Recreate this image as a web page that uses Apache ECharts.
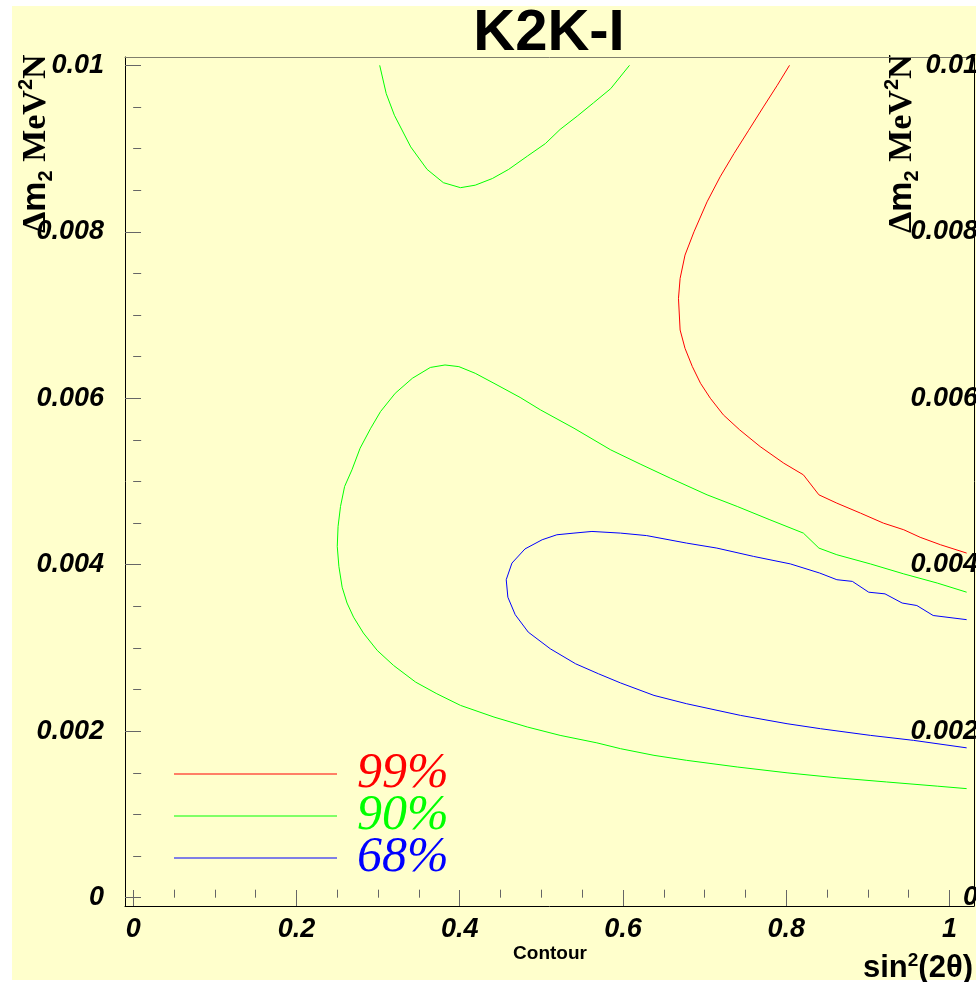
<!DOCTYPE html>
<html>
<head>
<meta charset="utf-8">
<script src="https://cdn.jsdelivr.net/npm/echarts@6/dist/echarts.min.js"></script>
<style>
  html, body { margin: 0; padding: 0; background: #ffffff; }
  #pad { position: absolute; left: 12px; top: 6px; width: 964px; height: 974px; background: #ffffcc; }
  #chart { position: absolute; left: 0; top: 0; width: 976px; height: 982px; }
</style>
</head>
<body>
<div id="pad"></div>
<div id="chart"></div>
<script>
// Axis ranges and tick positions
const xRange = [-0.01, 1.03];
const yRange = [-0.0001, 0.0101];
const xMajorTicks = [0, 0.2, 0.4, 0.6, 0.8, 1];
const xTickLabels = ['0', '0.2', '0.4', '0.6', '0.8', '1'];
const xMinorTicks = [0.05, 0.1, 0.15, 0.25, 0.3, 0.35, 0.45, 0.5, 0.55, 0.65, 0.7, 0.75, 0.85, 0.9, 0.95];
const yMajorTicks = [0, 0.002, 0.004, 0.006, 0.008, 0.01];
const yTickLabels = ['0', '0.002', '0.004', '0.006', '0.008', '0.01'];
const yMinorTicks = [0.0005, 0.001, 0.0015, 0.0025, 0.003, 0.0035, 0.0045, 0.005, 0.0055,
                     0.0065, 0.007, 0.0075, 0.0085, 0.009, 0.0095];

// Confidence-level contours in (sin^2 2theta, delta m^2) space
const contour99 = [
  [0.804, 0.01000], [0.789, 0.00976], [0.772, 0.00950], [0.754, 0.00922], [0.736, 0.00894],
  [0.719, 0.00866], [0.703, 0.00836], [0.687, 0.00800], [0.676, 0.00772], [0.670, 0.00744],
  [0.668, 0.00720], [0.670, 0.00682], [0.676, 0.00660], [0.685, 0.00638], [0.695, 0.00618],
  [0.707, 0.00600], [0.723, 0.00580], [0.743, 0.00562], [0.768, 0.00542], [0.797, 0.00522],
  [0.821, 0.00508], [0.840, 0.00484], [0.862, 0.00474], [0.891, 0.00462], [0.919, 0.00450],
  [0.944, 0.00442], [0.964, 0.00433], [0.989, 0.00424], [1.021, 0.00414]
];
const contour90Upper = [
  [0.302, 0.01000], [0.310, 0.00966], [0.320, 0.00940], [0.340, 0.00902], [0.360, 0.00875],
  [0.380, 0.00859], [0.401, 0.00853], [0.419, 0.00856], [0.440, 0.00864], [0.460, 0.00875],
  [0.483, 0.00891], [0.505, 0.00906], [0.523, 0.00923], [0.544, 0.00939], [0.564, 0.00955],
  [0.585, 0.00972], [0.608, 0.01000]
];
const contour90 = [
  [1.021, 0.00367], [0.985, 0.00378], [0.944, 0.00389], [0.903, 0.00401], [0.862, 0.00412],
  [0.840, 0.00420], [0.821, 0.00438], [0.780, 0.00454], [0.740, 0.00470], [0.703, 0.00484],
  [0.658, 0.00504], [0.621, 0.00521], [0.585, 0.00538], [0.540, 0.00564], [0.499, 0.00586],
  [0.474, 0.00601], [0.442, 0.00618], [0.419, 0.00630], [0.399, 0.00638], [0.382, 0.00640],
  [0.364, 0.00637], [0.342, 0.00624], [0.321, 0.00606], [0.303, 0.00584], [0.291, 0.00564],
  [0.278, 0.00540], [0.268, 0.00514], [0.259, 0.00494], [0.254, 0.00470], [0.251, 0.00446],
  [0.250, 0.00422], [0.252, 0.00398], [0.256, 0.00373], [0.262, 0.00354], [0.270, 0.00337],
  [0.282, 0.00318], [0.299, 0.00297], [0.319, 0.00279], [0.346, 0.00259], [0.372, 0.00245],
  [0.401, 0.00231], [0.442, 0.00217], [0.483, 0.00205], [0.523, 0.00195], [0.568, 0.00186],
  [0.597, 0.00179], [0.638, 0.00171], [0.678, 0.00165], [0.740, 0.00157], [0.801, 0.00150],
  [0.862, 0.00144], [0.923, 0.00139], [0.985, 0.00134], [1.021, 0.00131]
];
const contour68 = [
  [1.021, 0.00334], [0.980, 0.00339], [0.960, 0.00351], [0.942, 0.00354], [0.921, 0.00365],
  [0.901, 0.00367], [0.881, 0.00380], [0.862, 0.00382], [0.841, 0.00390], [0.805, 0.00401],
  [0.760, 0.00410], [0.715, 0.00420], [0.678, 0.00426], [0.629, 0.00435], [0.597, 0.00438],
  [0.562, 0.00440], [0.540, 0.00438], [0.519, 0.00436], [0.501, 0.00430], [0.480, 0.00419],
  [0.464, 0.00402], [0.457, 0.00382], [0.459, 0.00361], [0.468, 0.00340], [0.484, 0.00319],
  [0.511, 0.00299], [0.542, 0.00281], [0.570, 0.00269], [0.597, 0.00258], [0.638, 0.00243],
  [0.678, 0.00233], [0.744, 0.00219], [0.801, 0.00209], [0.842, 0.00203], [0.903, 0.00195],
  [0.956, 0.00189], [1.021, 0.00180]
];

const levelColors = { '99%': '#ff0000', '90%': '#00ff00', '68%': '#0000ff' };

function labelFor(ticks, labels) {
  return function (v) {
    let best = 0;
    for (let i = 1; i < ticks.length; i++) {
      if (Math.abs(ticks[i] - v) < Math.abs(ticks[best] - v)) best = i;
    }
    return labels[best];
  };
}

const tickFont = { fontFamily: '"Liberation Sans", Arial, sans-serif', fontWeight: 'bold', fontStyle: 'italic', fontSize: 27, color: '#000' };

const chart = echarts.init(document.getElementById('chart'), null, { renderer: 'canvas' });

const yTitle = {
  text: '{d|Δ}{m|m}{s|2}{t| MeV}{p|2}{t|N}',
  rich: {
    d: { fontFamily: '"Liberation Serif", serif', fontWeight: 'bold', fontSize: 34, lineHeight: 40, verticalAlign: 'middle', fill: '#000' },
    m: { fontFamily: '"Liberation Sans", sans-serif', fontWeight: 'bold', fontSize: 34, lineHeight: 40, verticalAlign: 'middle', fill: '#000' },
    s: { fontFamily: '"Liberation Sans", sans-serif', fontWeight: 'bold', fontSize: 20, lineHeight: 40, verticalAlign: 'bottom', fill: '#000' },
    t: { fontFamily: '"Liberation Serif", serif', fontWeight: 'bold', fontSize: 34, lineHeight: 40, verticalAlign: 'middle', fill: '#000' },
    p: { fontFamily: '"Liberation Sans", sans-serif', fontWeight: 'bold', fontSize: 20, lineHeight: 40, verticalAlign: 'top', fill: '#000' }
  }
};

function rotatedTitle(x) {
  return {
    type: 'text', x: x, y: 233, rotation: Math.PI / 2, silent: true,
    style: Object.assign({ align: 'left', verticalAlign: 'middle', textAlign: 'left', textVerticalAlign: 'middle' }, yTitle)
  };
}

chart.setOption({
  animation: false,
  backgroundColor: 'transparent',
  grid: { left: 125, right: 2, top: 57, bottom: 76, outerBoundsMode: 'none', containLabel: false },
  xAxis: [
    {
      type: 'value', min: xRange[0], max: xRange[1], position: 'bottom',
      axisLine: { show: true, onZero: false, lineStyle: { color: '#000', width: 1 } },
      axisTick: { show: true, inside: true, length: 16, customValues: xMajorTicks, lineStyle: { color: '#666', width: 1 } },
      axisLabel: Object.assign({ show: true, margin: 10, customValues: xMajorTicks, formatter: labelFor(xMajorTicks, xTickLabels) }, tickFont),
      splitLine: { show: false }
    },
    {
      type: 'value', min: xRange[0], max: xRange[1], position: 'bottom',
      axisLine: { show: false },
      axisTick: { show: true, inside: true, length: 8, customValues: xMinorTicks, lineStyle: { color: '#666', width: 1 } },
      axisLabel: { show: false },
      splitLine: { show: false }
    },
    {
      type: 'value', min: xRange[0], max: xRange[1], position: 'top',
      axisLine: { show: true, onZero: false, lineStyle: { color: '#807f6c', width: 1 } },
      axisTick: { show: false }, axisLabel: { show: false }, splitLine: { show: false }
    }
  ],
  yAxis: [
    {
      type: 'value', min: yRange[0], max: yRange[1], position: 'left',
      axisLine: { show: true, onZero: false, lineStyle: { color: '#000', width: 1 } },
      axisTick: { show: true, inside: true, length: 16, customValues: yMajorTicks, lineStyle: { color: '#666', width: 1 } },
      axisLabel: Object.assign({ show: true, margin: 21, customValues: yMajorTicks, formatter: labelFor(yMajorTicks, yTickLabels) }, tickFont),
      splitLine: { show: false }
    },
    {
      type: 'value', min: yRange[0], max: yRange[1], position: 'left',
      axisLine: { show: false },
      axisTick: { show: true, inside: true, length: 8, customValues: yMinorTicks, lineStyle: { color: '#666', width: 1 } },
      axisLabel: { show: false },
      splitLine: { show: false }
    },
    {
      type: 'value', min: yRange[0], max: yRange[1], position: 'right',
      axisLine: { show: true, onZero: false, lineStyle: { color: '#000', width: 1 } },
      axisTick: { show: false },
      axisLabel: Object.assign({ show: true, margin: 4, align: 'right', customValues: yMajorTicks, formatter: labelFor(yMajorTicks, yTickLabels) }, tickFont),
      splitLine: { show: false }
    }
  ],
  legend: {
    orient: 'vertical', left: 174, top: 749, padding: 0, itemGap: -8,
    itemWidth: 163, itemHeight: 1, icon: 'rect', selectedMode: false,
    data: [
      { name: '99%', textStyle: { color: levelColors['99%'] } },
      { name: '90%', textStyle: { color: levelColors['90%'] } },
      { name: '68%', textStyle: { color: levelColors['68%'] } }
    ],
    textStyle: { fontFamily: '"Liberation Serif", "Times New Roman", serif', fontStyle: 'italic', fontSize: 50, padding: [0, 0, 0, 15] }
  },
  graphic: [
    {
      type: 'text', x: 549, y: 34, silent: true,
      style: { text: 'K2K-I', fontFamily: '"Liberation Sans", Arial, sans-serif', fontWeight: 'bold', fontSize: 58, fill: '#000',
               align: 'center', verticalAlign: 'middle', textAlign: 'center', textVerticalAlign: 'middle' }
    },
    rotatedTitle(36),
    rotatedTitle(902),
    {
      type: 'text', x: 550, y: 954, silent: true,
      style: { text: 'Contour', fontFamily: '"Liberation Sans", Arial, sans-serif', fontWeight: 'bold', fontSize: 19, fill: '#000',
               align: 'center', verticalAlign: 'middle', textAlign: 'center', textVerticalAlign: 'middle' }
    },
    {
      type: 'text', x: 973, y: 985, silent: true,
      style: {
        text: '{a|sin}{b|2}{a|(2θ)}',
        align: 'right', verticalAlign: 'bottom', textAlign: 'right', textVerticalAlign: 'bottom',
        rich: {
          a: { fontFamily: '"Liberation Sans", Arial, sans-serif', fontWeight: 'bold', fontSize: 31, lineHeight: 34, verticalAlign: 'middle', fill: '#000' },
          b: { fontFamily: '"Liberation Sans", Arial, sans-serif', fontWeight: 'bold', fontSize: 19, lineHeight: 34, verticalAlign: 'top', fill: '#000' }
        }
      }
    }
  ],
  series: [
    { name: '99%', type: 'line', data: contour99, symbol: 'none', showSymbol: false,
      lineStyle: { width: 1, color: levelColors['99%'] }, itemStyle: { color: levelColors['99%'] } },
    { name: '90%', type: 'line', data: contour90, symbol: 'none', showSymbol: false,
      lineStyle: { width: 1, color: levelColors['90%'] }, itemStyle: { color: levelColors['90%'] } },
    { name: '90%', type: 'line', data: contour90Upper, symbol: 'none', showSymbol: false,
      lineStyle: { width: 1, color: levelColors['90%'] }, itemStyle: { color: levelColors['90%'] } },
    { name: '68%', type: 'line', data: contour68, symbol: 'none', showSymbol: false,
      lineStyle: { width: 1, color: levelColors['68%'] }, itemStyle: { color: levelColors['68%'] } }
  ]
});
</script>
</body>
</html>
